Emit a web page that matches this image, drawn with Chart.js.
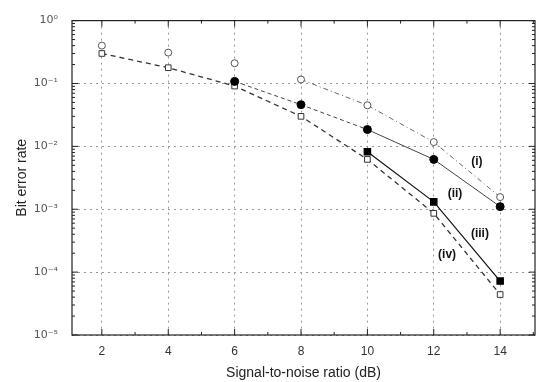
<!DOCTYPE html>
<html>
<head>
<meta charset="utf-8">
<script src="https://cdn.jsdelivr.net/npm/chart.js@4.4.1/dist/chart.umd.min.js"></script>
<style>
  html, body { margin: 0; padding: 0; background: #fff; }
  #wrap { width: 541px; height: 382px; }
</style>
</head>
<body>
<div id="wrap"><canvas id="ber"></canvas></div>
<script>
// x values (dB)
var snr = [2, 4, 6, 8, 10, 12, 14];
var xTicks = [2, 4, 6, 8, 10, 12, 14];
var yTicks = [1, 1e-1, 1e-2, 1e-3, 1e-4, 1e-5];

// series (null = no point)
var openCircles   = [0.40, 0.31, 0.21, 0.116, 0.045, 0.0117, 0.00156];
var filledCircles = [null, null, 0.108, 0.046, 0.0185, 0.0062, 0.0011];
var filledSquares = [null, null, null, null, 0.0082, 0.00131, 0.000072];
var openSquares   = [0.30, 0.178, 0.091, 0.030, 0.0062, 0.00086, 0.000044];

var curveLabels = ['(i)', '(ii)', '(iii)', '(iv)'];
var labelAt = [[13.3, 0.0058], [12.64, 0.0018], [13.39, 0.00041], [12.4, 0.00019]];

function pts(vals) {
    var out = [];
    for (var i = 0; i < snr.length; i++) {
        if (vals[i] !== null) out.push({x: snr[i], y: vals[i]});
    }
    return out;
}

function supNum(n) {
    var map = {'-': '\u207B', '0': '\u2070', '1': '\u00B9', '2': '\u00B2', '3': '\u00B3',
               '4': '\u2074', '5': '\u2075'};
    return String(n).split('').map(function(c) { return map[c]; }).join('');
}

// frame, inward ticks and curve labels
var decorPlugin = {
    id: 'decor',
    afterDatasetsDraw: function(chart) {
        var ctx = chart.ctx;
        var a = chart.chartArea;
        var xs = chart.scales.x, ys = chart.scales.y;
        ctx.save();
        ctx.strokeStyle = '#222';
        ctx.lineWidth = 1.2;
        ctx.strokeRect(a.left, a.top, a.right - a.left, a.bottom - a.top);

        ctx.lineWidth = 1;
        ctx.beginPath();
        for (var v = 2; v <= 15; v++) {
            var px = xs.getPixelForValue(v);
            var len = (v % 2 === 0) ? 6 : 3;
            ctx.moveTo(px, a.bottom); ctx.lineTo(px, a.bottom - len);
            ctx.moveTo(px, a.top); ctx.lineTo(px, a.top + len);
        }
        for (var e = -5; e <= 0; e++) {
            for (var m = 1; m <= 9; m++) {
                var val = m * Math.pow(10, e);
                if (val > 1) break;
                var py = ys.getPixelForValue(val);
                var l = (m === 1) ? 6 : 3;
                ctx.moveTo(a.left, py); ctx.lineTo(a.left + l, py);
                ctx.moveTo(a.right, py); ctx.lineTo(a.right - l, py);
            }
        }
        ctx.stroke();

        ctx.fillStyle = '#111';
        ctx.font = 'bold 12px "Liberation Sans", Arial, sans-serif';
        ctx.textAlign = 'center';
        ctx.textBaseline = 'middle';
        curveLabels.forEach(function(t, i) {
            ctx.fillText(t, xs.getPixelForValue(labelAt[i][0]), ys.getPixelForValue(labelAt[i][1]));
        });
        ctx.restore();
    }
};

var ctx = document.getElementById('ber');
new Chart(ctx, {
    type: 'line',
    data: {
        datasets: [
            {
                label: '(i)',
                data: pts(openCircles),
                borderColor: '#666',
                borderWidth: 1,
                borderDash: [5, 3, 1, 3],
                segment: {
                    borderColor: function(c) { return c.p0.parsed.x < 8 ? 'rgba(0,0,0,0)' : '#666'; }
                },
                pointStyle: 'circle',
                pointRadius: 3.5,
                pointBackgroundColor: '#fff',
                pointBorderColor: '#555',
                pointBorderWidth: 1
            },
            {
                label: '(ii)',
                data: pts(filledCircles),
                borderColor: '#444',
                borderWidth: 1,
                segment: {
                    borderDash: function(c) { return c.p0.parsed.x < 10 ? [4, 3] : undefined; }
                },
                pointStyle: 'circle',
                pointRadius: 4,
                pointBackgroundColor: '#000',
                pointBorderColor: '#000'
            },
            {
                label: '(iii)',
                data: pts(filledSquares),
                borderColor: '#111',
                borderWidth: 1.2,
                pointStyle: 'rect',
                pointRadius: 4.5,
                pointBackgroundColor: '#000',
                pointBorderColor: '#000'
            },
            {
                label: '(iv)',
                data: pts(openSquares),
                borderColor: '#333',
                borderWidth: 1.3,
                borderDash: [5, 4],
                pointStyle: 'rect',
                pointRadius: 4,
                pointBackgroundColor: '#fff',
                pointBorderColor: '#333',
                pointBorderWidth: 1
            }
        ]
    },
    options: {
        animation: false,
        responsive: true,
        maintainAspectRatio: false,
        layout: { padding: { top: 9, right: 6, left: 0, bottom: 0 } },
        plugins: {
            legend: { display: false },
            tooltip: { enabled: false }
        },
        scales: {
            x: {
                type: 'linear',
                min: 1.1,
                max: 15.05,
                afterBuildTicks: function(s) { s.ticks = xTicks.map(function(v) { return {value: v}; }); },
                afterFit: function(s) { s.height = 47; },
                grid: { color: '#999', drawTicks: false },
                border: { display: false, dash: [2, 4] },
                ticks: {
                    color: '#333',
                    padding: 9,
                    font: { family: '"Liberation Sans", Arial, sans-serif', size: 12 }
                },
                title: {
                    display: true,
                    text: 'Signal-to-noise ratio (dB)',
                    color: '#222',
                    padding: { top: 2, bottom: 0 },
                    font: { family: '"Liberation Sans", Arial, sans-serif', size: 14 }
                }
            },
            y: {
                type: 'logarithmic',
                min: 1e-5,
                max: 1,
                afterBuildTicks: function(s) { s.ticks = yTicks.map(function(v) { return {value: v}; }); },
                afterFit: function(s) { s.width = 72; },
                grid: { color: '#999', drawTicks: false },
                border: { display: false, dash: [2, 4] },
                ticks: {
                    color: '#555',
                    padding: 14,
                    font: { family: '"DejaVu Sans", sans-serif', size: 11 },
                    callback: function(v) { return '10' + supNum(Math.round(Math.log10(v))); }
                },
                title: {
                    display: true,
                    text: 'Bit error rate',
                    color: '#222',
                    padding: { top: 14, bottom: 0 },
                    font: { family: '"Liberation Sans", Arial, sans-serif', size: 14 }
                }
            }
        }
    },
    plugins: [decorPlugin]
});
</script>
</body>
</html>
